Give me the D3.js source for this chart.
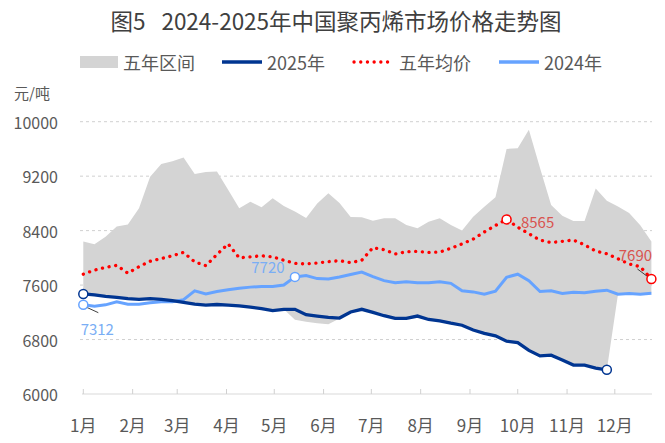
<!DOCTYPE html>
<html>
<head>
<meta charset="utf-8">
<script src="https://cdn.jsdelivr.net/npm/d3@7"></script>
<style>
  body { margin: 0; background: #fff; }
  svg { display: block; font-family: "Noto Sans CJK SC", "Microsoft YaHei", sans-serif; }
</style>
</head>
<body>
<svg id="chart"></svg>
<script>
// 月份标签
const monthLabels = ["1月", "2月", "3月", "4月", "5月", "6月", "7月", "8月", "9月", "10月", "11月", "12月"];

// 周度数据（元/吨）
const rangeUpper = [
  8240, 8200, 8310, 8460, 8490, 8730, 9190, 9380, 9420, 9475, 9230, 9260, 9270,
  9000, 8730, 8825, 8745, 8875, 8760, 8680, 8585, 8800, 8950, 8805, 8600, 8595,
  8546, 8581, 8581, 8483, 8434, 8531, 8581, 8483, 8400, 8605, 8750, 8890, 9600,
  9610, 9880, 9320, 8775, 8620, 8540, 8540, 9020, 8840, 8755, 8660, 8480, 8240
];
const rangeLower = [
  7470, 7455, 7435, 7420, 7400, 7390, 7400, 7390, 7370, 7345, 7320, 7305, 7315,
  7305, 7295, 7275, 7255, 7224, 7244, 7090, 7060, 7040, 7025, 7110, 7205, 7244,
  7200, 7150, 7110, 7110, 7145, 7095, 7075, 7040, 7010, 6940, 6890, 6855, 6775,
  6755, 6640, 6560, 6570, 6500, 6425, 6425, 6380, 6355, 7465, 7475, 7465, 7480
];
const price2025 = [
  7470, 7455, 7435, 7420, 7400, 7390, 7400, 7390, 7370, 7345, 7320, 7305, 7315,
  7305, 7295, 7275, 7255, 7224, 7244, 7244, 7165, 7145, 7125, 7116, 7205, 7244,
  7200, 7150, 7110, 7110, 7145, 7095, 7075, 7040, 7010, 6940, 6890, 6855, 6775,
  6755, 6640, 6560, 6570, 6500, 6425, 6425, 6380, 6355
];
const avg5y = [
  7760, 7820, 7860, 7890, 7775, 7870, 7950, 7990, 8030, 8080, 7940, 7885, 8050,
  8205, 8000, 8015, 8030, 8015, 7965, 7920, 7910, 7925, 7945, 7958, 7930, 7965,
  8150, 8120, 8057, 8090, 8095, 8080, 8085, 8140, 8205, 8275, 8380, 8475, 8565,
  8450, 8355, 8260, 8225, 8243, 8262, 8190, 8100, 8060, 7985, 7910, 7870, 7690
];
const price2024 = [
  7312, 7290, 7310, 7355, 7320, 7320, 7340, 7355, 7355, 7385, 7515, 7470, 7505,
  7530, 7555, 7570, 7580, 7580, 7600, 7720, 7740, 7695, 7690, 7720, 7755, 7790,
  7725, 7665, 7635, 7650, 7635, 7635, 7650, 7625, 7515, 7500, 7465, 7510, 7715,
  7760, 7665, 7505, 7515, 7478, 7495, 7488, 7510, 7525, 7465, 7475, 7465, 7480
];
const yTicks = [6000, 6800, 7600, 8400, 9200, 10000];

// 颜色
const GREY = '#d4d4d4';
const DARK_BLUE = '#003591';
const LIGHT_BLUE = '#66a3ff';
const RED = '#ff0000';
const TEXT = '#595959';

const width = 665, height = 443;
const svg = d3.select("#chart").attr("width", width).attr("height", height);

// 每周一个点
const start = new Date(Date.UTC(2025, 0, 1));
const weeks = d3.range(rangeUpper.length).map(i => d3.utcDay.offset(start, i * 7));

const x = d3.scaleUtc()
  .domain([weeks[0], weeks[weeks.length - 1]])
  .range([83.3, 651.4]);
const y = d3.scaleLinear().domain([6000, 10000]).range([394, 121.7]);

// 标题
const title = svg.append("text")
  .attr("x", 336).attr("y", 20)
  .attr("text-anchor", "middle").attr("dominant-baseline", "central")
  .attr("font-size", 22.5).attr("fill", "#404040");
title.append("tspan").text("图5");
title.append("tspan").attr("dx", 16).text("2024-2025年中国聚丙烯市场价格走势图");

// 单位
svg.append("text")
  .attr("x", 14).attr("y", 92)
  .attr("dominant-baseline", "central")
  .attr("font-size", 15).attr("fill", TEXT)
  .text("元/吨");

// 网格线
svg.append("g").selectAll("line")
  .data(yTicks.filter(d => d > 6000))
  .enter().append("line")
  .attr("x1", 80).attr("x2", 652)
  .attr("y1", d => y(d)).attr("y2", d => y(d))
  .attr("stroke", "#d0d0d0").attr("stroke-width", 1)
  .attr("stroke-dasharray", "3,3");

// y 轴标签
svg.append("g").selectAll("text")
  .data(yTicks)
  .enter().append("text")
  .attr("x", 58).attr("y", d => y(d))
  .attr("text-anchor", "end").attr("dominant-baseline", "central")
  .attr("font-size", 16).attr("fill", TEXT)
  .text(d => d);

// 五年区间
const area = d3.area()
  .x((d, i) => x(weeks[i]))
  .y0((d, i) => y(rangeLower[i]))
  .y1(d => y(d));
svg.append("path")
  .datum(rangeUpper)
  .attr("d", area)
  .attr("fill", GREY);

// x 轴
const months = d3.utcMonth.range(start, d3.utcDay.offset(weeks[weeks.length - 1], 1));
svg.append("line")
  .attr("x1", 82).attr("x2", 652)
  .attr("y1", 394).attr("y2", 394)
  .attr("stroke", "#d9d9d9");
svg.append("g").selectAll("line")
  .data(months)
  .enter().append("line")
  .attr("x1", d => x(d)).attr("x2", d => x(d))
  .attr("y1", 389).attr("y2", 394)
  .attr("stroke", "#d0d0d0");
svg.append("g").selectAll("text")
  .data(months)
  .enter().append("text")
  .attr("x", d => x(d)).attr("y", 424)
  .attr("text-anchor", "middle").attr("dominant-baseline", "central")
  .attr("font-size", 17).attr("fill", TEXT)
  .text((d, i) => monthLabels[i]);

// 折线
const line = d3.line().x((d, i) => x(weeks[i])).y(d => y(d));

svg.append("path").datum(price2024).attr("d", line)
  .attr("fill", "none").attr("stroke", LIGHT_BLUE).attr("stroke-width", 3);

svg.append("path").datum(avg5y).attr("d", line)
  .attr("fill", "none").attr("stroke", RED).attr("stroke-width", 3.3)
  .attr("stroke-linecap", "round").attr("stroke-dasharray", "0.1,6.6");

svg.append("path").datum(price2025).attr("d", line)
  .attr("fill", "none").attr("stroke", DARK_BLUE).attr("stroke-width", 3.3);

// 标注
const LABEL_RED = '#d9534f';
const LABEL_BLUE = '#7aaef5';
const marks = [
  { data: price2024, i: 0, color: LIGHT_BLUE, label: true, lc: LABEL_BLUE, dx: 14, dy: 24, lead: [[2, 2], [15, 8]] },
  { data: price2024, i: 19, color: LIGHT_BLUE, label: true, lc: LABEL_BLUE, dx: -27, dy: -10 },
  { data: price2025, i: 0, color: DARK_BLUE, label: false },
  { data: price2025, i: price2025.length - 1, color: DARK_BLUE, label: false },
  { data: avg5y, i: 38, color: RED, label: true, lc: LABEL_RED, dx: 31, dy: 2 },
  { data: avg5y, i: avg5y.length - 1, color: RED, label: true, lc: LABEL_RED, dx: -16, dy: -24, lead: [[-14, -10], [-2, -1]] }
];

marks.forEach(m => {
  const px = x(weeks[m.i]), py = y(m.data[m.i]);
  if (m.lead) {
    svg.append("line")
      .attr("x1", px + m.lead[0][0]).attr("y1", py + m.lead[0][1])
      .attr("x2", px + m.lead[1][0]).attr("y2", py + m.lead[1][1])
      .attr("stroke", "#404040").attr("stroke-width", 1);
  }
  svg.append("circle")
    .attr("cx", px).attr("cy", py).attr("r", 4.5)
    .attr("fill", "white").attr("stroke", m.color).attr("stroke-width", 1.5);
  if (m.label) {
    svg.append("text")
      .attr("x", px + m.dx).attr("y", py + m.dy)
      .attr("text-anchor", "middle").attr("dominant-baseline", "central")
      .attr("font-size", 15).attr("fill", m.lc)
      .text(m.data[m.i]);
  }
});

// 图例
const legendItems = [
  { name: "五年区间", type: "rect", color: GREY, x: 80 },
  { name: "2025年", type: "line", color: DARK_BLUE, x: 222 },
  { name: "五年均价", type: "dot", color: RED, x: 354 },
  { name: "2024年", type: "line", color: LIGHT_BLUE, x: 499 }
];
const legend = svg.append("g");
legendItems.forEach(d => {
  const ly = 62;
  if (d.type === "rect") {
    legend.append("rect").attr("x", d.x).attr("y", ly - 6).attr("width", 38).attr("height", 12)
      .attr("fill", d.color);
  } else {
    legend.append("line").attr("x1", d.x).attr("x2", d.x + 40)
      .attr("y1", ly).attr("y2", ly)
      .attr("stroke", d.color).attr("stroke-width", 3.3)
      .attr("stroke-linecap", d.type === "dot" ? "round" : "butt")
      .attr("stroke-dasharray", d.type === "dot" ? "0.1,6.6" : null);
  }
  legend.append("text")
    .attr("x", d.x + (d.type === "rect" ? 43 : 45)).attr("y", ly)
    .attr("dominant-baseline", "central")
    .attr("font-size", 18).attr("fill", TEXT)
    .text(d.name);
});
</script>
</body>
</html>
